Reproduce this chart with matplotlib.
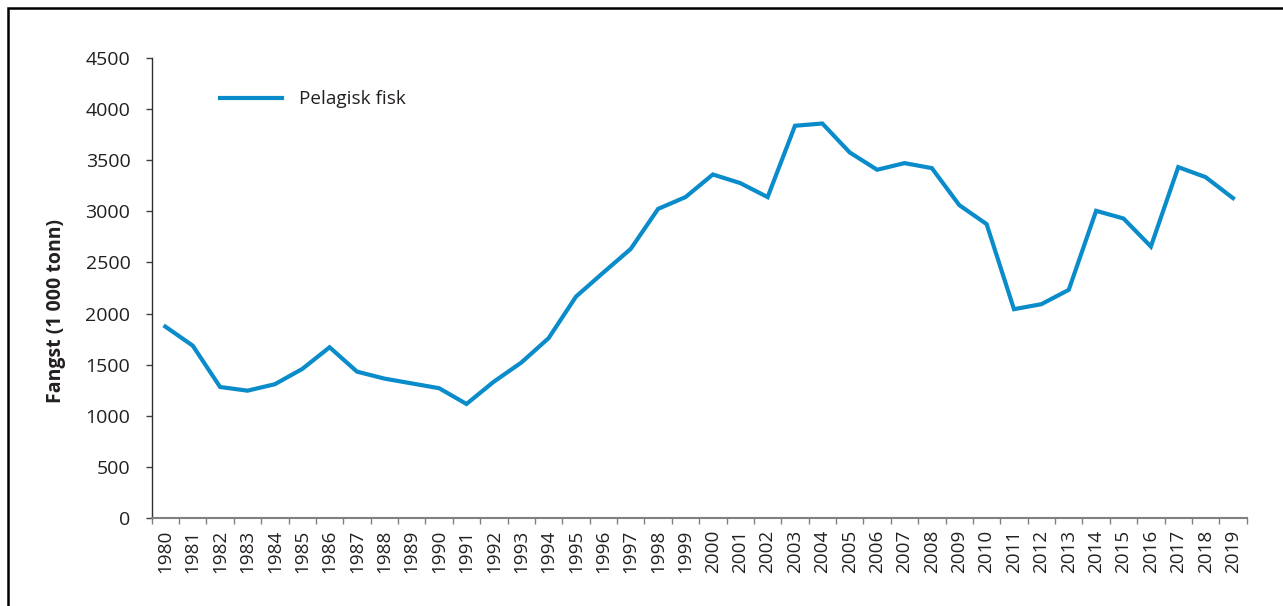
import numpy as np
import matplotlib
matplotlib.use('Agg')
from matplotlib import pyplot as plt
from matplotlib.patches import Rectangle

# Data

years = [str(y) for y in range(1980, 2020)]
pelagisk = [1873, 1687, 1283, 1247, 1310, 1459, 1671, 1433, 1365, 1318, 1271, 1117, 1335, 1521,
            1760, 2166, 2401, 2632, 3023, 3138, 3359, 3275, 3138, 3835, 3857, 3574, 3405, 3470,
            3421, 3060, 2874, 2043, 2092, 2232, 3004, 2929, 2655, 3431, 3333, 3128]
yticks = [0, 500, 1000, 1500, 2000, 2500, 3000, 3500, 4000, 4500]

plt.rcParams['font.family'] = ['Open Sans', 'DejaVu Sans']
txt = '#231f20'

fig = plt.figure(figsize = (12.83, 6.06), dpi = 100)
ax = fig.add_axes([0.1182, 0.1447, 0.9717 - 0.1182, 0.9048 - 0.1447])

x = np.arange(len(years))
ax.plot(x, pelagisk, color = '#0a8ccb', lw = 3.0, solid_joinstyle = 'miter', label = 'Pelagisk fisk')

ax.set_xlim(-0.5, len(years) - 0.5)
ax.set_ylim(0, 4500)
ax.set_yticks(yticks)
ax.set_yticklabels([str(v) for v in yticks], fontsize = 14, color = txt)

# category labels between boundary ticks
ax.set_xticks(x)
ax.set_xticklabels(years, rotation = 90, fontsize = 13.6, color = txt)
ax.set_xticks(np.arange(len(years) + 1) - 0.5, minor = True)
ax.tick_params(axis = 'x', which = 'major', length = 0, pad = 8)
ax.tick_params(axis = 'x', which = 'minor', length = 4, width = 1, color = '#808080', direction = 'out')
ax.tick_params(axis = 'y', length = 4.3, width = 1, color = '#404040', pad = 11)

for s in ['top', 'right']:
    ax.spines[s].set_visible(False)
ax.spines['left'].set_color('#303030')
ax.spines['left'].set_linewidth(1)
ax.spines['bottom'].set_color('#808080')
ax.spines['bottom'].set_linewidth(1.5)

ax.set_ylabel('Fangst (1 000 tonn)', fontsize = 14, fontweight = 'bold', color = txt)
ax.yaxis.set_label_coords(-0.0785, 0.450)

ax.legend(loc = 'center left', bbox_to_anchor = (0.0624, 0.910), frameon = False, fontsize = 13.6,
          handlelength = 3.3, handletextpad = 0.9, borderpad = 0, borderaxespad = 0, labelcolor = txt)

# frame round the figure
fig.patches.append(Rectangle((8 / 1283, -0.05), 1.1, 1 - 8 / 606 + 0.05, transform = fig.transFigure,
                             fill = False, edgecolor = 'black', lw = 1.8))

plt.savefig('out.png', dpi = 100)
